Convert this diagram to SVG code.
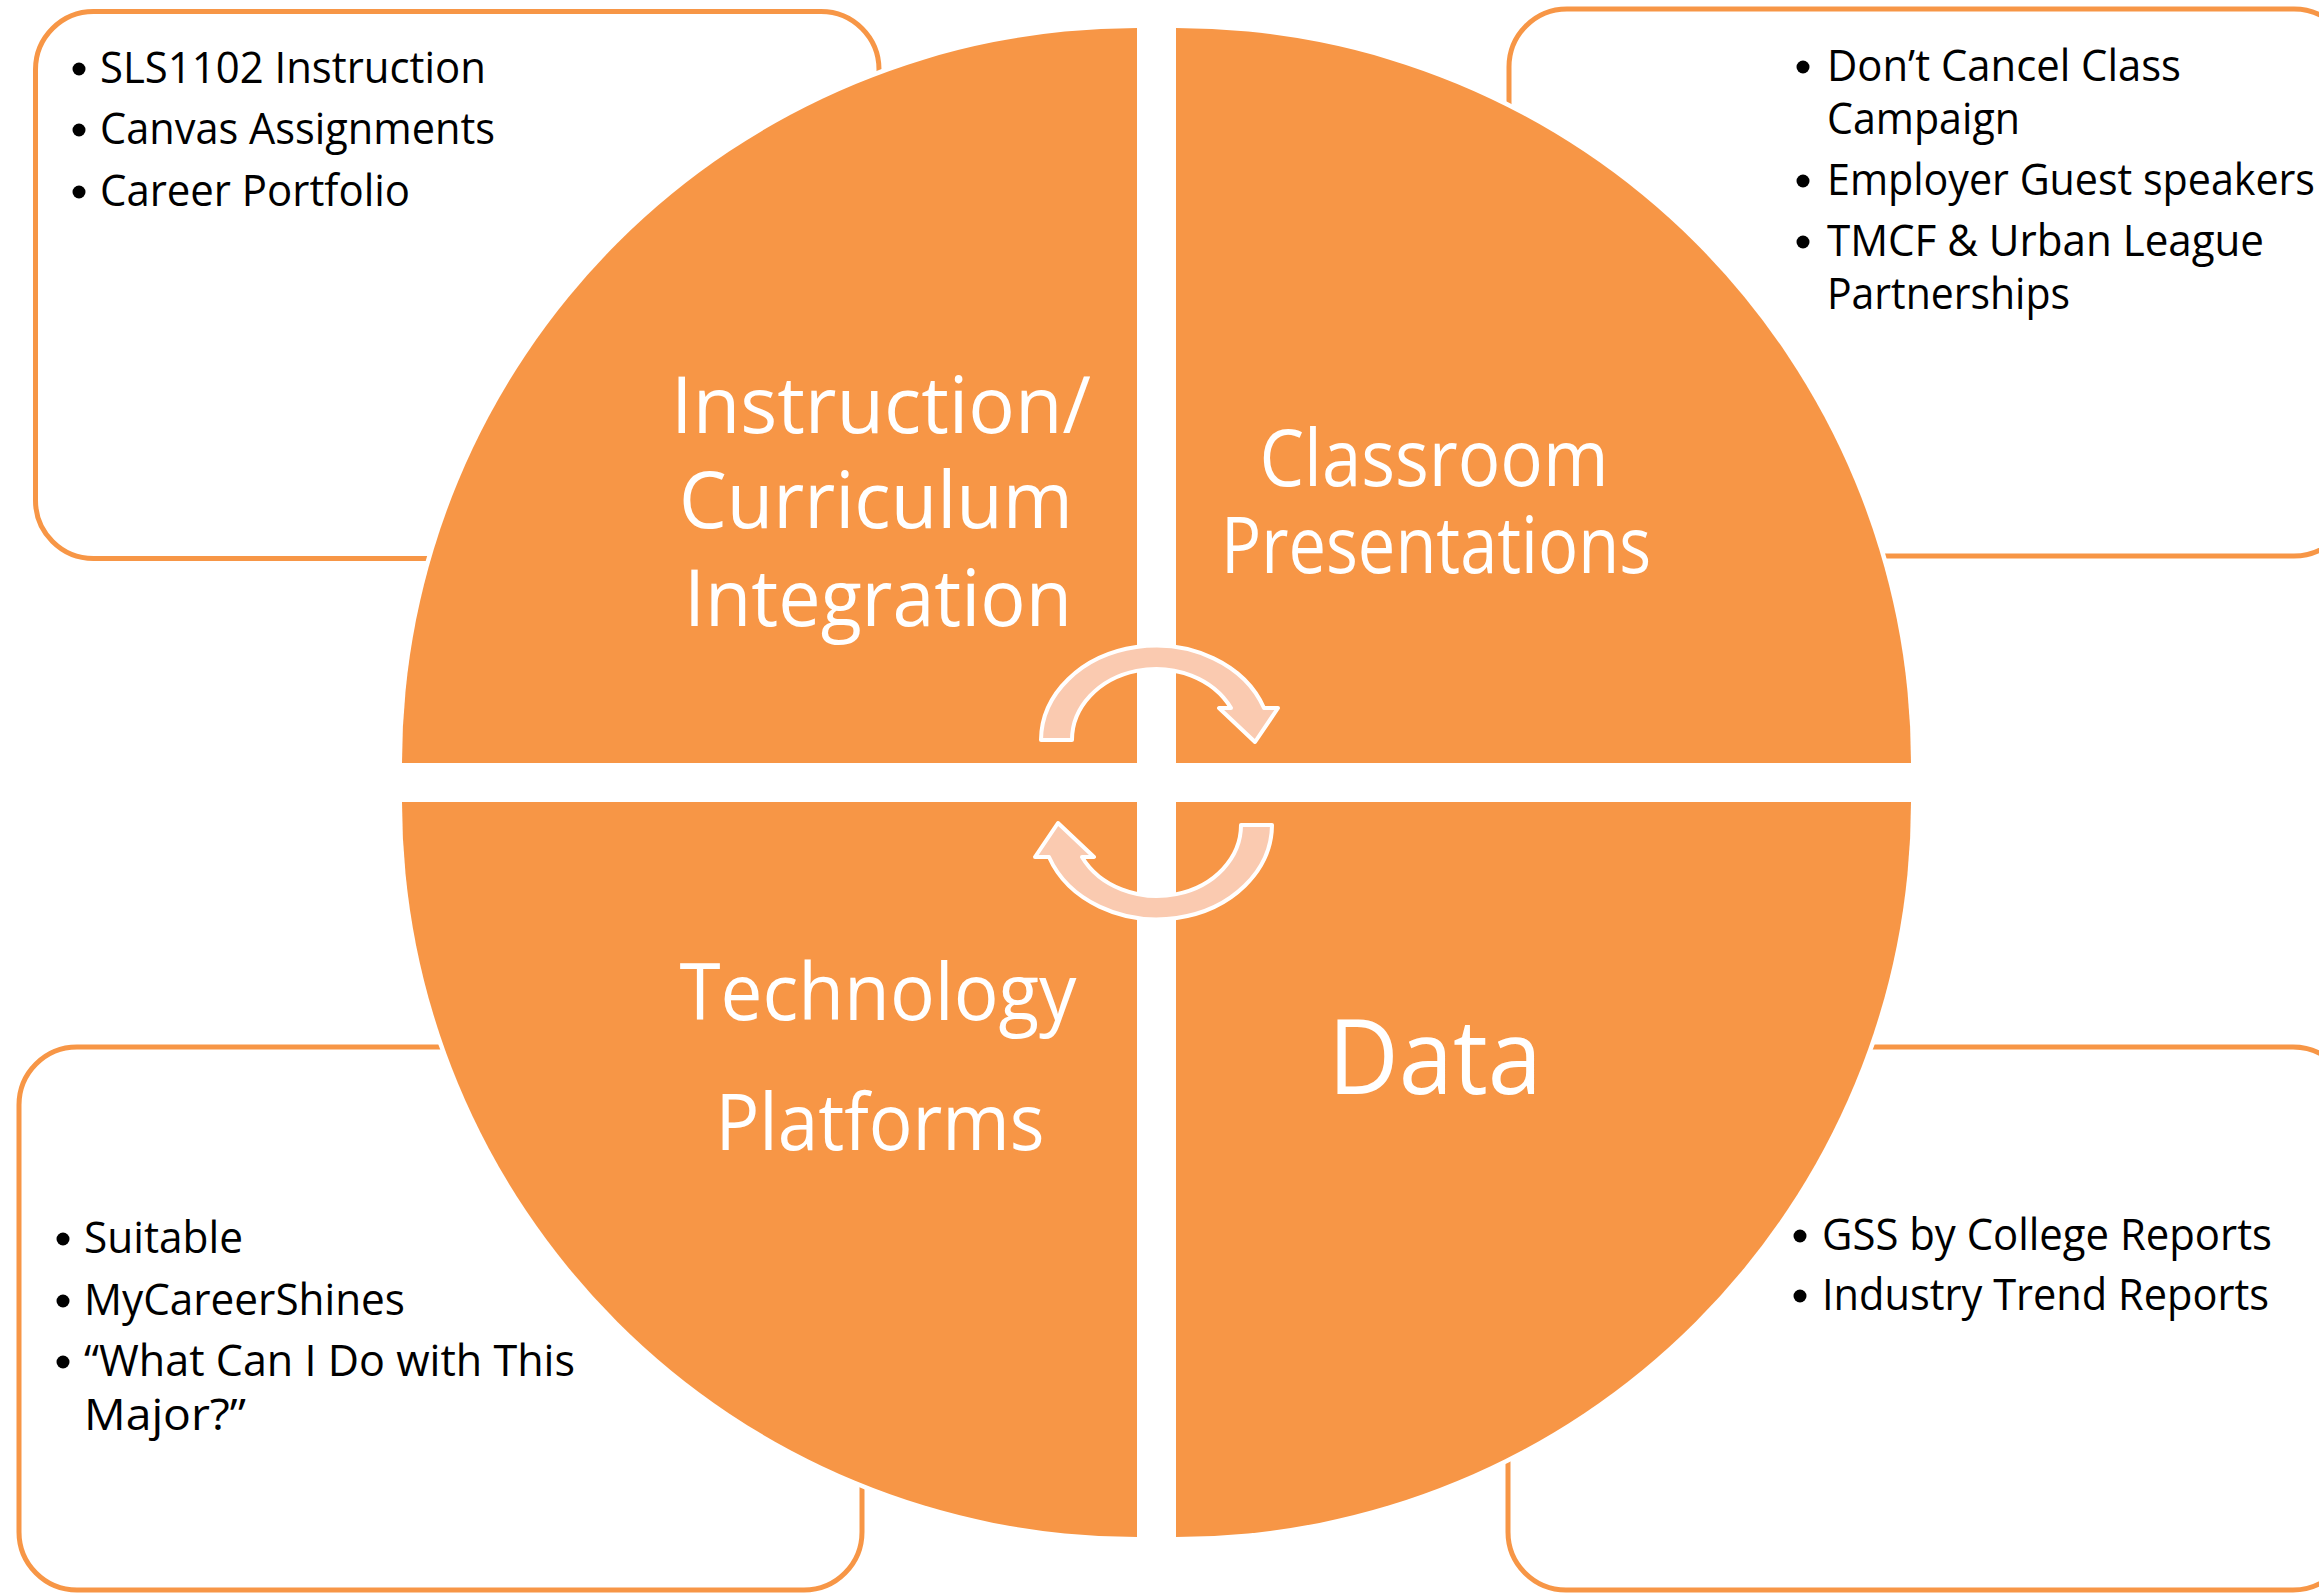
<svg xmlns="http://www.w3.org/2000/svg" width="2319" height="1593" viewBox="0 0 2319 1593">
<style>
.box{fill:#FFFFFF;stroke:#F79646;stroke-width:5}
.quad{fill:#F79646;stroke:#FFFFFF;stroke-width:9;paint-order:stroke}
.lbl{font-family:'Open Sans','Liberation Sans',sans-serif;fill:#FFFFFF;text-anchor:middle}
.item{font-family:'Open Sans','Liberation Sans',sans-serif;font-size:43px;fill:#000000}
.bul{fill:#000000}
.arrow{fill:#FACAB0;stroke:#FFFFFF;stroke-width:4;stroke-linejoin:round}
</style>
<rect width="2319" height="1593" fill="#FFFFFF"/>

<g id="node-instruction">
<rect class="box" x="35.5" y="11.5" width="843.5" height="547" rx="58" ry="58"/>
<path class="quad" d="M1137,763 H402 A735,735 0 0 1 1137,28 Z"/>
<text class="lbl" font-size="78" x="881" y="433" textLength="420" lengthAdjust="spacingAndGlyphs">Instruction/</text>
<text class="lbl" font-size="78" x="876" y="528" textLength="394" lengthAdjust="spacingAndGlyphs">Curriculum</text>
<text class="lbl" font-size="78" x="878" y="626" textLength="388" lengthAdjust="spacingAndGlyphs">Integration</text>
<circle class="bul" cx="79" cy="69" r="6.5"/>
<circle class="bul" cx="79" cy="130" r="6.5"/>
<circle class="bul" cx="79" cy="192" r="6.5"/>
<text class="item" x="100" y="83" textLength="386" lengthAdjust="spacingAndGlyphs">SLS1102 Instruction</text>
<text class="item" x="100" y="144" textLength="395" lengthAdjust="spacingAndGlyphs">Canvas Assignments</text>
<text class="item" x="100" y="206" textLength="310" lengthAdjust="spacingAndGlyphs">Career Portfolio</text>
</g>

<g id="node-classroom">
<rect class="box" x="1509" y="9" width="843" height="547" rx="58" ry="58"/>
<path class="quad" d="M1176,763 V28 A735,735 0 0 1 1911,763 Z"/>
<text class="lbl" font-size="78" x="1434" y="486" textLength="349" lengthAdjust="spacingAndGlyphs">Classroom</text>
<text class="lbl" font-size="78" x="1436" y="573" textLength="430" lengthAdjust="spacingAndGlyphs">Presentations</text>
<circle class="bul" cx="1803" cy="67" r="6.5"/>
<circle class="bul" cx="1803" cy="181" r="6.5"/>
<circle class="bul" cx="1803" cy="242" r="6.5"/>
<text class="item" x="1827" y="81" textLength="354" lengthAdjust="spacingAndGlyphs">Don’t Cancel Class</text>
<text class="item" x="1827" y="134" textLength="193" lengthAdjust="spacingAndGlyphs">Campaign</text>
<text class="item" x="1827" y="195" textLength="488" lengthAdjust="spacingAndGlyphs">Employer Guest speakers</text>
<text class="item" x="1827" y="256" textLength="437" lengthAdjust="spacingAndGlyphs">TMCF &amp; Urban League</text>
<text class="item" x="1827" y="309" textLength="243" lengthAdjust="spacingAndGlyphs">Partnerships</text>
</g>

<g id="node-technology">
<rect class="box" x="19" y="1047" width="843" height="543" rx="58" ry="58"/>
<path class="quad" d="M1137,802 V1537 A735,735 0 0 1 402,802 Z"/>
<text class="lbl" font-size="78" x="878" y="1020" textLength="397" lengthAdjust="spacingAndGlyphs">Technology</text>
<text class="lbl" font-size="78" x="880" y="1150" textLength="329" lengthAdjust="spacingAndGlyphs">Platforms</text>
<circle class="bul" cx="63" cy="1239" r="6.5"/>
<circle class="bul" cx="63" cy="1301" r="6.5"/>
<circle class="bul" cx="63" cy="1362" r="6.5"/>
<text class="item" x="84" y="1253" textLength="159" lengthAdjust="spacingAndGlyphs">Suitable</text>
<text class="item" x="84" y="1315" textLength="321" lengthAdjust="spacingAndGlyphs">MyCareerShines</text>
<text class="item" x="84" y="1376" textLength="491" lengthAdjust="spacingAndGlyphs">“What Can I Do with This</text>
<text class="item" x="84" y="1430" textLength="162" lengthAdjust="spacingAndGlyphs">Major?”</text>
</g>

<g id="node-data">
<rect class="box" x="1508" y="1047" width="843" height="543" rx="58" ry="58"/>
<path class="quad" d="M1176,802 H1911 A735,735 0 0 1 1176,1537 Z"/>
<text class="lbl" font-size="104" x="1435" y="1094" textLength="214" lengthAdjust="spacingAndGlyphs">Data</text>
<circle class="bul" cx="1800" cy="1236" r="6.5"/>
<circle class="bul" cx="1800" cy="1296" r="6.5"/>
<text class="item" x="1822" y="1250" textLength="450" lengthAdjust="spacingAndGlyphs">GSS by College Reports</text>
<text class="item" x="1822" y="1310" textLength="447" lengthAdjust="spacingAndGlyphs">Industry Trend Reports</text>
</g>

<g id="connectors">
<path id="arrow-top" class="arrow" d="M1041,740 A115,95 0 0 1 1264,708 L1278,708 L1255,742 L1219,708 L1231,708 A84,71 0 0 0 1072,740 Z"/>
<path id="arrow-bottom" class="arrow" transform="rotate(180 1156.5 782.5)" d="M1041,740 A115,95 0 0 1 1264,708 L1278,708 L1255,742 L1219,708 L1231,708 A84,71 0 0 0 1072,740 Z"/>
</g>
</svg>
